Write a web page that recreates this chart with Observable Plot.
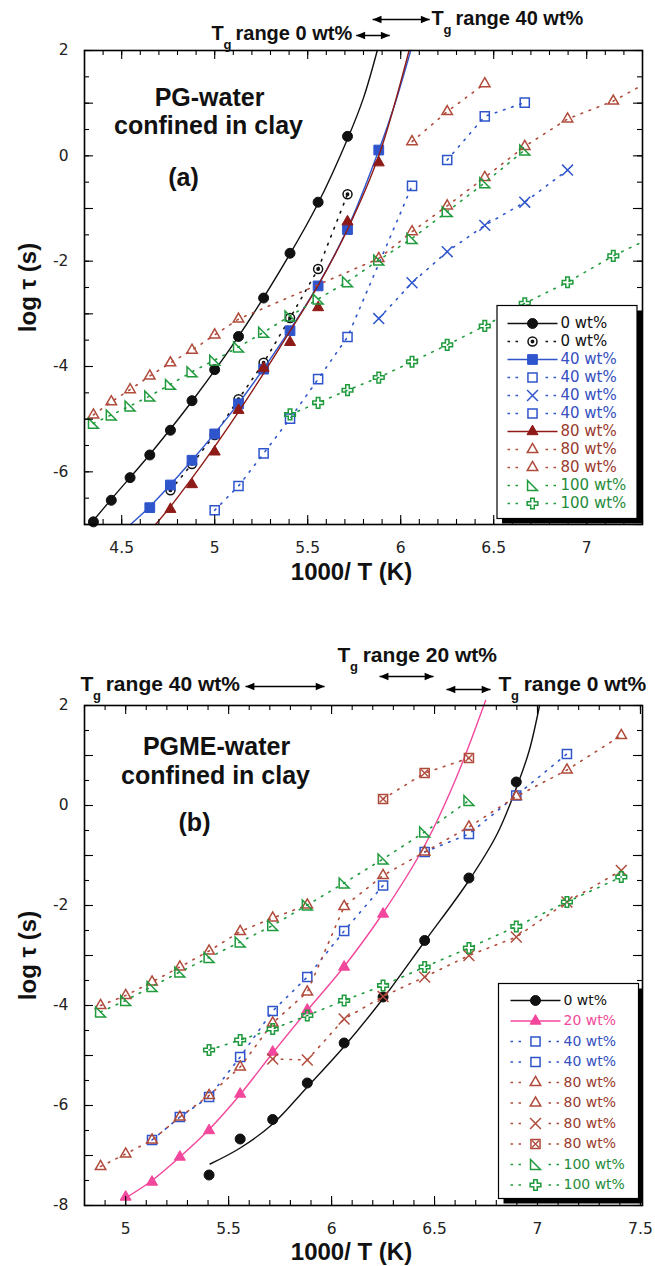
<!DOCTYPE html>
<html>
<head>
<meta charset="utf-8">
<script src="https://cdn.jsdelivr.net/npm/d3@7"></script>
<script src="https://cdn.jsdelivr.net/npm/@observablehq/plot@0.6"></script>
<style>
  body { margin: 0; background: #fff; }
  #chart { width: 655px; height: 1266px; }
  #chart svg { display: block; }
</style>
</head>
<body>
<div id="chart"></div>
<script>
// Relaxation times of glycol-water mixtures confined in clay: [1000/T (1/K), log tau (s)]

// ---- (a) PG-water ----
const a_0wt_filled = [[4.348,-6.95],[4.444,-6.54],[4.545,-6.11],[4.651,-5.68],[4.762,-5.21],[4.878,-4.65],[5.0,-4.06],[5.128,-3.43],[5.263,-2.70],[5.405,-1.85],[5.556,-0.88],[5.714,0.37]];
const a_0wt_fit = [[4.33,-7.0],[4.444,-6.52],[4.651,-5.67],[4.878,-4.66],[5.128,-3.43],[5.405,-1.86],[5.556,-0.9],[5.714,0.32],[5.8,1.1],[5.874,2.0]];
const a_0wt_open = [[4.762,-6.35],[4.878,-5.85],[5.0,-5.3],[5.128,-4.62],[5.263,-3.93],[5.405,-3.08],[5.556,-2.15],[5.714,-0.73]];
const a_40wt_filled = [[4.651,-6.68],[4.762,-6.25],[4.878,-5.78],[5.0,-5.28],[5.128,-4.71],[5.263,-4.05],[5.405,-3.32],[5.556,-2.47],[5.714,-1.40],[5.882,0.11]];
const a_40wt_fit = [[4.547,-7.0],[4.651,-6.66],[4.878,-5.78],[5.128,-4.70],[5.405,-3.30],[5.556,-2.45],[5.714,-1.38],[5.882,0.10],[5.97,1.0],[6.054,2.0]];
const a_40wt_openA = [[5.0,-6.73],[5.128,-6.27],[5.263,-5.65],[5.405,-4.99],[5.556,-4.24],[5.714,-3.44],[6.061,-0.57]];
const a_40wt_times = [[5.882,-3.09],[6.061,-2.41],[6.25,-1.82],[6.452,-1.32],[6.667,-0.88],[6.897,-0.27]];
const a_40wt_openB = [[6.25,-0.08],[6.452,0.75],[6.667,1.01]];
const a_80wt_filled = [[4.762,-6.71],[4.878,-6.24],[5.0,-5.62],[5.128,-4.83],[5.263,-4.03],[5.405,-3.54],[5.556,-2.88],[5.714,-1.25],[5.882,-0.13]];
const a_80wt_fit = [[4.682,-7.0],[4.762,-6.66],[4.878,-6.12],[5.0,-5.52],[5.128,-4.86],[5.263,-4.13],[5.405,-3.33],[5.556,-2.46],[5.714,-1.40],[5.882,0.0],[6.045,2.0]];
const a_80wt_openA = [[4.348,-4.92],[4.444,-4.67],[4.545,-4.44],[4.651,-4.18],[4.762,-3.93],[4.878,-3.69],[5.0,-3.40],[5.128,-3.10],[5.882,-1.95],[6.061,-1.44],[6.25,-0.95],[6.452,-0.41],[6.667,0.18],[6.897,0.70],[7.143,1.04],[7.407,1.55]];
const a_80wt_openB = [[6.061,0.27],[6.25,0.84],[6.452,1.37]];
const a_100wt_rtri = [[4.348,-5.08],[4.444,-4.92],[4.545,-4.75],[4.651,-4.56],[4.762,-4.34],[4.878,-4.10],[5.0,-3.88],[5.128,-3.63],[5.263,-3.35],[5.405,-3.04],[5.556,-2.72],[5.714,-2.39],[5.882,-1.98],[6.061,-1.57],[6.25,-1.06],[6.452,-0.51],[6.667,0.11]];
const a_100wt_cross = [[5.405,-4.91],[5.556,-4.69],[5.714,-4.45],[5.882,-4.21],[6.061,-3.91],[6.25,-3.59],[6.452,-3.23],[6.667,-2.80],[6.897,-2.40],[7.143,-1.90],[7.407,-1.45]];
const a_legend = ["0 wt%","0 wt%","40 wt%","40 wt%","40 wt%","40 wt%","80 wt%","80 wt%","80 wt%","100 wt%","100 wt%"];
const a_xticks = [4.5,5,5.5,6,6.5,7];
const a_yticks = [2,0,-2,-4,-6];
const a_tg0 = [5.761,5.941];   // Tg range, 0 wt%
const a_tg40 = [5.849,6.156];  // Tg range, 40 wt%

// ---- (b) PGME-water ----
const b_0wt_filled = [[5.405,-7.39],[5.556,-6.67],[5.714,-6.28],[5.882,-5.55],[6.061,-4.75],[6.25,-3.83],[6.452,-2.70],[6.667,-1.45],[6.897,0.47]];
const b_0wt_fit = [[5.41,-7.17],[5.556,-6.85],[5.714,-6.37],[5.882,-5.63],[6.061,-4.82],[6.25,-3.86],[6.452,-2.72],[6.667,-1.5],[6.804,-0.57],[6.897,0.35],[6.96,1.1],[7.01,2.0]];
const b_20wt_filled = [[5.0,-7.83],[5.128,-7.53],[5.263,-7.03],[5.405,-6.50],[5.556,-5.77],[5.714,-4.93],[5.882,-4.09],[6.061,-3.23],[6.25,-2.17]];
const b_20wt_fit = [[5.0,-7.85],[5.128,-7.5],[5.263,-7.03],[5.405,-6.48],[5.556,-5.78],[5.714,-4.95],[5.882,-4.1],[6.061,-3.22],[6.25,-2.15],[6.452,-0.8],[6.6,0.5],[6.748,2.1]];
const b_40wt_openA = [[5.128,-6.69],[5.263,-6.23],[5.405,-5.83],[5.556,-5.03],[5.714,-4.11],[5.882,-3.43],[6.061,-2.51],[6.25,-1.60]];
const b_40wt_openB = [[6.452,-0.93],[6.667,-0.57],[6.897,0.20],[7.143,1.03]];
const b_80wt_openA = [[4.878,-4.0],[5.0,-3.80],[5.128,-3.53],[5.263,-3.23],[5.405,-2.91],[5.556,-2.52],[5.714,-2.25],[5.882,-1.99]];
const b_80wt_openB = [[4.878,-7.22],[5.0,-6.97],[5.128,-6.69],[5.263,-6.23],[5.405,-5.80],[5.556,-5.23],[5.714,-4.35],[5.882,-3.73],[6.061,-2.02],[6.25,-1.40],[6.452,-0.93],[6.667,-0.43],[6.897,0.18],[7.143,0.71],[7.407,1.40]];
const b_80wt_times = [[5.714,-5.07],[5.882,-5.09],[6.061,-4.27],[6.25,-3.82],[6.452,-3.43],[6.667,-3.0],[6.897,-2.63],[7.143,-1.93],[7.407,-1.30]];
const b_80wt_boxed = [[6.25,0.13],[6.452,0.65],[6.667,0.95]];
const b_100wt_rtri = [[4.878,-4.13],[5.0,-3.90],[5.128,-3.62],[5.263,-3.33],[5.405,-3.04],[5.556,-2.73],[5.714,-2.40],[5.882,-1.99],[6.061,-1.55],[6.25,-1.07],[6.452,-0.53],[6.667,0.10]];
const b_100wt_cross = [[5.405,-4.89],[5.556,-4.69],[5.714,-4.47],[5.882,-4.20],[6.061,-3.90],[6.25,-3.60],[6.452,-3.23],[6.667,-2.85],[6.897,-2.42],[7.143,-1.93],[7.407,-1.43]];
const b_legend = ["0 wt%","20 wt%","40 wt%","40 wt%","80 wt%","80 wt%","80 wt%","80 wt%","100 wt%","100 wt%"];
const b_xticks = [5,5.5,6,6.5,7,7.5];
const b_yticks = [2,0,-2,-4,-6,-8];
const b_tg40 = [5.582,5.966];
const b_tg20 = [6.233,6.495];
const b_tg0 = [6.558,6.772];

// ---- styling ----
const COLORS = {ink: "#111111", blue: "#2f55cc", wine: "#8e1b17", brick: "#b04b3b", green: "#1f9a3d", pink: "#f2479c"};
const TEXTCOL = {ink: "#111111", blue: "#3550c0", wine: "#9a3b2e", brick: "#9a3b2e", green: "#1f8c3a", pink: "#f04a9c"};
const SANS = "Liberation Sans, Arial, Helvetica, sans-serif";
const LABELFONT = "DejaVu Sans, Verdana, sans-serif";
const DOTS = "1.6,7";

// right triangle with the right angle at the lower left
const rightTriangle = {draw(ctx, size) { const s = Math.sqrt(size) * 0.56; ctx.moveTo(-s, -s); ctx.lineTo(-s, s); ctx.lineTo(s, s); ctx.closePath(); }};
// filled arrowheads whose tip sits on the anchor point
const headLeft = {draw(ctx, size) { const s = Math.sqrt(size); ctx.moveTo(0, 0); ctx.lineTo(s, -s * 0.42); ctx.lineTo(s, s * 0.42); ctx.closePath(); }};
const headRight = {draw(ctx, size) { const s = Math.sqrt(size); ctx.moveTo(0, 0); ctx.lineTo(-s, -s * 0.42); ctx.lineTo(-s, s * 0.42); ctx.closePath(); }};

const MARKERS = {
  circle: {symbol: "circle", r: 5},
  circleDot: {symbol: "circle", r: 4.5, inner: {symbol: "circle", r: 1.3, filled: true}},
  square: {symbol: "square", r: 5.5},
  square2: {symbol: "square2", r: 5.8},
  times: {symbol: "times", r: 5},
  triangle: {symbol: "triangle", r: 4.1},
  triangle2: {symbol: "triangle2", r: 5},
  rightTri: {symbol: rightTriangle, r: 5},
  cross: {symbol: "cross", r: 4.5},
  boxedTimes: {symbol: "square2", r: 5.8, inner: {symbol: "times", r: 3.3}}
};

const seriesA = [
  {data: a_0wt_filled, fit: a_0wt_fit, color: "ink", mark: "circle", filled: true},
  {data: a_0wt_open, color: "ink", mark: "circleDot", dotted: true},
  {data: a_40wt_filled, fit: a_40wt_fit, color: "blue", mark: "square", filled: true},
  {data: a_40wt_openA, color: "blue", mark: "square2", dotted: true},
  {data: a_40wt_times, color: "blue", mark: "times", dotted: true},
  {data: a_40wt_openB, color: "blue", mark: "square2", dotted: true},
  {data: a_80wt_filled, fit: a_80wt_fit, color: "wine", mark: "triangle", filled: true},
  {data: a_80wt_openA, color: "brick", mark: "triangle2", dotted: true},
  {data: a_80wt_openB, color: "brick", mark: "triangle2", dotted: true},
  {data: a_100wt_rtri, color: "green", mark: "rightTri", dotted: true},
  {data: a_100wt_cross, color: "green", mark: "cross", dotted: true}
];
const seriesB = [
  {data: b_0wt_filled, fit: b_0wt_fit, color: "ink", mark: "circle", filled: true},
  {data: b_20wt_filled, fit: b_20wt_fit, color: "pink", mark: "triangle", filled: true},
  {data: b_40wt_openA, color: "blue", mark: "square2", dotted: true},
  {data: b_40wt_openB, color: "blue", mark: "square2", dotted: true},
  {data: b_80wt_openA, color: "brick", mark: "triangle2", dotted: true},
  {data: b_80wt_openB, color: "brick", mark: "triangle2", dotted: true},
  {data: b_80wt_times, color: "brick", mark: "times", dotted: true},
  {data: b_80wt_boxed, color: "brick", mark: "boxedTimes", dotted: true},
  {data: b_100wt_rtri, color: "green", mark: "rightTri", dotted: true},
  {data: b_100wt_cross, color: "green", mark: "cross", dotted: true}
];

// panel geometry (svg-local pixels)
const PA = {width: 655, height: 600, top: 50, bottom: 524, left: 84, right: 642, x: [4.3, 7.3], y: [-7, 2]};
const PB = {width: 655, height: 666, top: 105, bottom: 605, left: 84, right: 642, x: [4.8, 7.51], y: [-8, 2]};
const px2x = (P, px) => P.x[0] + (px - P.left) * (P.x[1] - P.x[0]) / (P.right - P.left);
const px2y = (P, py) => P.y[1] - (py - P.top) * (P.y[1] - P.y[0]) / (P.bottom - P.top);
const X = d => d[0], Y = d => d[1];

function dotMarks(pts, m, col, filled) {
  const marks = [Plot.dot(pts, {x: X, y: Y, symbol: m.symbol, r: m.r, fill: filled ? col : "none", stroke: col, strokeWidth: filled ? 1 : 1.5})];
  if (m.inner) marks.push(Plot.dot(pts, {x: X, y: Y, symbol: m.inner.symbol, r: m.inner.r, fill: m.inner.filled ? col : "none", stroke: col, strokeWidth: 1.3}));
  return marks;
}

function seriesMarks(P, s) {
  const col = COLORS[s.color];
  const inside = d => d[0] >= P.x[0] && d[0] <= P.x[1];
  const marks = [];
  if (s.fit) marks.push(Plot.line(s.fit, {x: X, y: Y, stroke: col, strokeWidth: 1.4, curve: "catmull-rom"}));
  if (s.dotted) marks.push(Plot.line(s.data, {x: X, y: Y, stroke: col, strokeWidth: 1.6, strokeDasharray: DOTS, clip: true}));
  marks.push(...dotMarks(s.data.filter(inside), MARKERS[s.mark], col, s.filled));
  return marks;
}

function tickMarks(P, xMinor, xMajor, yMinor, yMajor) {
  const h = P.bottom - P.top, w = P.right - P.left;
  const st = {stroke: "#000", strokeWidth: 1.1};
  const tx = (vals, len) => [
    Plot.tickX(vals, {x: d => d, insetTop: h - len, ...st}),
    Plot.tickX(vals, {x: d => d, insetBottom: h - len, ...st})
  ];
  const ty = (vals, len) => [
    Plot.tickY(vals, {y: d => d, insetRight: w - len, ...st}),
    Plot.tickY(vals, {y: d => d, insetLeft: w - len, ...st})
  ];
  return [...tx(xMinor, 5), ...tx(xMajor, 9), ...ty(yMinor, 5), ...ty(yMajor, 9)];
}

function legendMarks(P, series, labels, L) {
  const marks = [
    Plot.frame({insetLeft: L.left - P.left + 5, insetRight: Math.max(0, P.right - L.right - 5), insetTop: L.top - P.top + 5, insetBottom: Math.max(0, P.bottom - L.bottom - 5), fill: "#000", stroke: "none"}),
    Plot.frame({insetLeft: L.left - P.left, insetRight: P.right - L.right, insetTop: L.top - P.top, insetBottom: P.bottom - L.bottom, fill: "#fff", stroke: "#000", strokeWidth: 1.2})
  ];
  series.forEach((s, i) => {
    const y = px2y(P, L.y0 + i * L.dy);
    const col = COLORS[s.color];
    if (s.fit) {
      marks.push(Plot.link([0], {x1: px2x(P, L.x0), x2: px2x(P, L.x1), y1: y, y2: y, stroke: col, strokeWidth: 1.4}));
    } else {
      marks.push(Plot.link([0], {x1: px2x(P, L.x0), x2: px2x(P, L.xm - 14), y1: y, y2: y, stroke: col, strokeWidth: 1.6, strokeDasharray: "2.5,5.5"}));
      marks.push(Plot.link([0], {x1: px2x(P, L.xm + 13), x2: px2x(P, L.xm + 24), y1: y, y2: y, stroke: col, strokeWidth: 1.6, strokeDasharray: "2.5,5.5"}));
    }
    marks.push(...dotMarks([[px2x(P, L.xm), y]], MARKERS[s.mark], col, s.filled));
    marks.push(Plot.text([labels[i]], {x: px2x(P, L.xt), y, text: d => d, textAnchor: "start", lineAnchor: "middle", fill: TEXTCOL[s.color], fontSize: L.font, fontFamily: LABELFONT}));
  });
  return marks;
}

function tgMarks(P, t, size) {
  const y = px2y(P, t.arrowY);
  const lx = px2x(P, t.labelX), ly = px2y(P, t.labelY);
  const bold = {fontWeight: "bold", fontFamily: SANS, textAnchor: "start", lineAnchor: "middle", fill: "#111"};
  return [
    Plot.link([0], {x1: t.range[0], x2: t.range[1], y1: y, y2: y, stroke: "#000", strokeWidth: 1.5}),
    Plot.dot([0], {x: t.range[0], y, symbol: headLeft, r: 5, fill: "#000", stroke: "none"}),
    Plot.dot([0], {x: t.range[1], y, symbol: headRight, r: 5, fill: "#000", stroke: "none"}),
    Plot.text(["T"], {x: lx, y: ly, text: d => d, fontSize: size, ...bold}),
    Plot.text(["g"], {x: lx, y: ly, dx: size * 0.6, dy: 11, text: d => d, fontSize: 13, ...bold}),
    Plot.text([t.text], {x: lx, y: ly, dx: size * 1.2, text: d => d, fontSize: size, ...bold})
  ];
}

function panel(P, series, opts) {
  const cx = (P.left + P.right) / 2;
  const title = {fontWeight: "bold", fontFamily: SANS, fill: "#111", textAnchor: "middle", lineAnchor: "middle"};
  return Plot.plot({
    width: P.width, height: P.height,
    marginLeft: P.left, marginRight: P.width - P.right, marginTop: P.top, marginBottom: P.height - P.bottom,
    x: {domain: P.x, axis: null},
    y: {domain: P.y, axis: null},
    style: {background: "#fff", fontFamily: LABELFONT, fontSize: "15px", overflow: "visible"},
    marks: [
      ...series.flatMap(s => seriesMarks(P, s)),
      ...tickMarks(P, opts.xMinor, opts.xMajor, opts.yMinor, opts.yMajor),
      Plot.frame({stroke: "#000", strokeWidth: 1.6}),
      Plot.text(opts.xticks, {x: d => d, frameAnchor: "bottom", dy: 24, lineAnchor: "middle", text: d => String(d), fontSize: 15.5, fill: "#222"}),
      Plot.text(opts.yticks, {y: d => d, frameAnchor: "left", dx: -16, textAnchor: "end", lineAnchor: "middle", text: d => String(d), fontSize: 15.5, fill: "#222"}),
      Plot.text(["1000/ T (K)"], {frameAnchor: "bottom", dx: 351 - cx, dy: opts.xTitleDy, text: d => d, fontSize: 24, ...title}),
      Plot.text(["log τ (s)"], {frameAnchor: "left", dx: -56, rotate: -90, text: d => d, fontSize: 24, ...title}),
      ...opts.inner.map(t => Plot.text([t.text], {frameAnchor: "top-left", dx: t.cx - P.left, dy: t.cy - P.top, text: d => d, fontSize: 25, ...title})),
      ...opts.tg.flatMap(t => tgMarks(P, t, opts.tgSize)),
      ...legendMarks(P, series, opts.legend, opts.legendBox)
    ]
  });
}

const range10 = (a, b) => d3.range(a, b + 1).map(d => d / 10);
const range2 = (a, b) => d3.range(a, b + 1).map(d => d / 2);

const chartA = panel(PA, seriesA, {
  xMinor: range10(43, 73), xMajor: range10(45, 70).filter((d, i) => i % 5 === 0),
  yMinor: range2(-14, 4), yMajor: d3.range(-7, 3),
  xticks: a_xticks, yticks: a_yticks, xTitleDy: 48,
  inner: [{text: "PG-water", cx: 209, cy: 97}, {text: "confined in clay", cx: 208, cy: 125}, {text: "(a)", cx: 183, cy: 177}],
  tgSize: 20,
  tg: [
    {range: a_tg0, arrowY: 35, labelX: 211, labelY: 33, text: "range 0 wt%"},
    {range: a_tg40, arrowY: 19, labelX: 431, labelY: 18, text: "range 40 wt%"}
  ],
  legend: a_legend,
  legendBox: {left: 496.5, right: 636.5, top: 305, bottom: 518, y0: 323, dy: 18, x0: 507, x1: 557, xm: 532, xt: 560, font: 15}
});

const chartB = panel(PB, seriesB, {
  xMinor: range10(48, 75), xMajor: range10(50, 75).filter((d, i) => i % 5 === 0),
  yMinor: range2(-16, 4), yMajor: d3.range(-8, 3),
  xticks: b_xticks, yticks: b_yticks, xTitleDy: 47,
  inner: [{text: "PGME-water", cx: 216, cy: 146}, {text: "confined in clay", cx: 215, cy: 175}, {text: "(b)", cx: 194, cy: 222}],
  tgSize: 21,
  tg: [
    {range: b_tg40, arrowY: 86, labelX: 80, labelY: 84, text: "range 40 wt%"},
    {range: b_tg20, arrowY: 76, labelX: 337, labelY: 55, text: "range 20 wt%"},
    {range: b_tg0, arrowY: 89, labelX: 498, labelY: 84, text: "range 0 wt%"}
  ],
  legend: b_legend,
  legendBox: {left: 498, right: 638, top: 383, bottom: 598, y0: 400, dy: 20.5, x0: 510, x1: 560, xm: 535, xt: 563, font: 14}
});

document.getElementById("chart").append(chartA, chartB);
</script>
</body>
</html>
